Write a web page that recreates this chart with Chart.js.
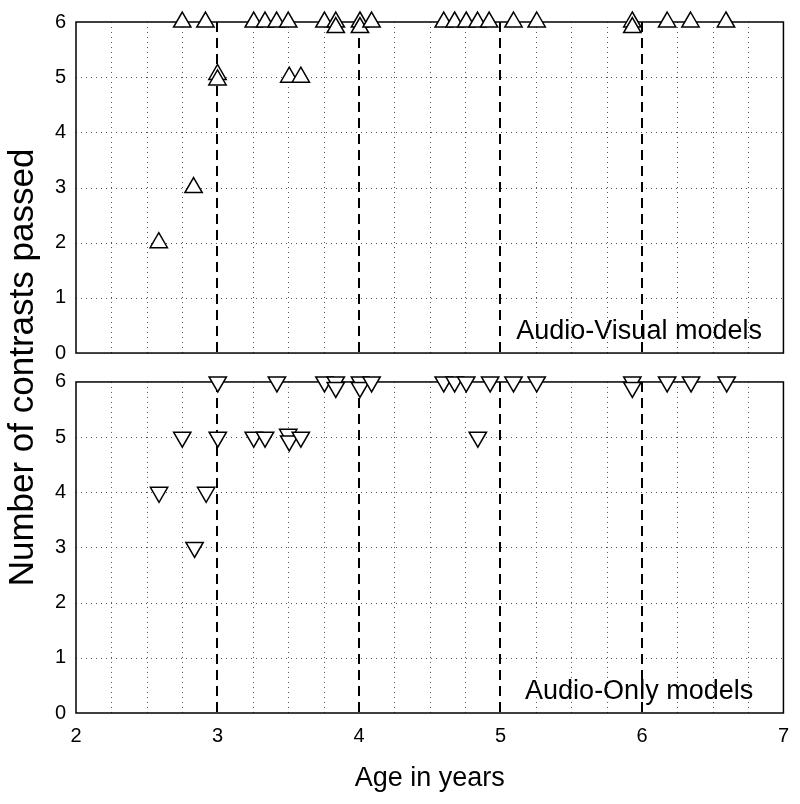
<!DOCTYPE html>
<html>
<head>
<meta charset="utf-8">
<script src="https://cdn.jsdelivr.net/npm/chart.js@4.4.1/dist/chart.umd.min.js"></script>
<style>
  html, body { margin: 0; padding: 0; background: #fff; }
  #wrap { position: relative; width: 800px; height: 804px; }
</style>
</head>
<body>
<div id="wrap"><canvas id="c" width="800" height="804"></canvas></div>
<script>
// ---- data ----
const avAge    = [2.585, 2.751, 2.831, 2.915, 3.000, 3.000, 3.256, 3.336, 3.418, 3.500, 3.507, 3.589, 3.756, 3.836, 3.836, 4.007, 4.007, 4.089, 4.599, 4.676, 4.758, 4.838, 4.920, 5.092, 5.256, 5.932, 5.932, 6.178, 6.343, 6.594];
const avPassed = [2, 6, 3, 6, 5.05, 4.95, 6, 6, 6, 6, 5, 5, 6, 6, 5.9, 6, 5.9, 6, 6, 6, 6, 6, 6, 6, 6, 6, 5.9, 6, 6, 6];

const aoAge    = [2.587, 2.751, 2.838, 2.920, 3.002, 3.002, 3.256, 3.336, 3.420, 3.500, 3.507, 3.589, 3.756, 3.836, 3.836, 4.007, 4.007, 4.089, 4.599, 4.676, 4.758, 4.840, 4.927, 5.092, 5.256, 5.932, 5.932, 6.178, 6.347, 6.599];
const aoPassed = [4, 5, 3, 4, 6, 5, 5, 5, 6, 5.05, 4.93, 5, 6, 6, 5.9, 6, 5.9, 6, 6, 6, 6, 5, 6, 6, 6, 6, 5.9, 6, 6, 6];

const xTicks = [2, 3, 4, 5, 6, 7];
const yTicks = [0, 1, 2, 3, 4, 5, 6];
const dashedAges = [3, 4, 5, 6];
const avLabel = 'Audio-Visual models';
const aoLabel = 'Audio-Only models';
const xTitle = 'Age in years';
const yTitle = 'Number of contrasts passed';

// ---- styling / layout ----
const FONT = "'Liberation Sans', Arial, Helvetica, sans-serif";
Chart.defaults.font.family = FONT;
Chart.defaults.color = '#000';

const PANEL_PX = 332;          // height of one panel (0..6)
const SPAN_PX = 693;           // chart area height (both panels + gap)
const extra = 6 * SPAN_PX / PANEL_PX;   // units covered by the full chart area

const toPts = (xs, ys) => xs.map((v, i) => ({x: v, y: ys[i]}));

const minorX = [];
for (let v = 2.25; v < 7; v += 0.25) { if (Math.abs(v - Math.round(v)) > 1e-6) minorX.push(+v.toFixed(2)); }
const minorY = [1, 2, 3, 4, 5];

const panelPlugin = {
  id: 'panels',
  beforeDatasetsDraw(chart) {
    const ctx = chart.ctx;
    const xs = chart.scales.x;
    const line = (x1, y1, x2, y2) => { ctx.beginPath(); ctx.moveTo(x1, y1); ctx.lineTo(x2, y2); ctx.stroke(); };
    [['y', avLabel], ['y2', aoLabel]].forEach(([id, label]) => {
      const ys = chart.scales[id];
      const top = ys.getPixelForValue(6), bottom = ys.getPixelForValue(0);
      const left = xs.left, right = xs.right;
      ctx.save();
      ctx.strokeStyle = '#555';
      ctx.lineWidth = 1;
      ctx.setLineDash([1, 4]);
      minorY.forEach(v => { const py = Math.round(ys.getPixelForValue(v)) + 0.5; line(left, py, right, py); });
      minorX.forEach(v => { const px = Math.round(xs.getPixelForValue(v)) + 0.5; line(px, top, px, bottom); });
      ctx.strokeStyle = '#000';
      ctx.lineWidth = 2;
      ctx.setLineDash([10, 6]);
      dashedAges.forEach(v => { const px = Math.round(xs.getPixelForValue(v)); line(px, top, px, bottom); });
      ctx.setLineDash([]);
      ctx.lineWidth = 1.5;
      ctx.strokeRect(left, top, right - left, bottom - top);
      ctx.fillStyle = '#000';
      ctx.font = '27px ' + FONT;
      ctx.textAlign = 'center';
      ctx.textBaseline = 'alphabetic';
      ctx.fillText(label, xs.getPixelForValue(5.98), bottom - 14);
      ctx.restore();
    });
  }
};

new Chart(document.getElementById('c'), {
  type: 'scatter',
  data: {
    datasets: [
      {
        label: avLabel,
        data: toPts(avAge, avPassed),
        yAxisID: 'y',
        pointStyle: 'triangle',
        pointRadius: 10,
        pointBorderWidth: 1.5,
        pointBorderColor: '#000',
        pointBackgroundColor: '#fff',
        clip: false
      },
      {
        label: aoLabel,
        data: toPts(aoAge, aoPassed),
        yAxisID: 'y2',
        pointStyle: 'triangle',
        pointRotation: 180,
        pointRadius: 10,
        pointBorderWidth: 1.5,
        pointBorderColor: '#000',
        pointBackgroundColor: '#fff',
        clip: false
      }
    ]
  },
  options: {
    responsive: false,
    animation: false,
    events: [],
    layout: { padding: { top: 20, right: 12, left: 0, bottom: 0 } },
    plugins: { legend: { display: false }, tooltip: { enabled: false } },
    scales: {
      x: {
        type: 'linear',
        min: 2, max: 7,
        afterBuildTicks: s => { s.ticks = xTicks.map(v => ({value: v})); },
        afterFit: s => { s.height = 91; },
        grid: { display: false, drawTicks: false },
        border: { display: false },
        ticks: { padding: 11, font: { size: 20 }, color: '#000', callback: v => String(v) },
        title: { display: true, text: xTitle, font: { size: 27 }, color: '#000', padding: { top: 0, bottom: 9 } }
      },
      y: {
        type: 'linear',
        position: 'left',
        weight: 1,
        min: 6 - extra, max: 6,
        afterBuildTicks: s => { s.ticks = yTicks.map(v => ({value: v})); },
        afterFit: s => { s.width = 76; },
        grid: { display: false, drawTicks: false },
        border: { display: false },
        ticks: { padding: 10, font: { size: 20 }, color: '#000', callback: v => String(v) },
        title: { display: true, text: yTitle, font: { size: 35 }, color: '#000', padding: { top: 2, bottom: 0 } }
      },
      y2: {
        type: 'linear',
        position: 'left',
        weight: 0,
        min: 0, max: extra,
        afterBuildTicks: s => { s.ticks = yTicks.map(v => ({value: v})); },
        afterFit: s => { s.width = 0; },
        grid: { display: false, drawTicks: false },
        border: { display: false },
        ticks: { mirror: true, padding: -21, font: { size: 20 }, color: '#000', callback: v => String(v) }
      }
    }
  },
  plugins: [panelPlugin]
});
</script>
</body>
</html>
